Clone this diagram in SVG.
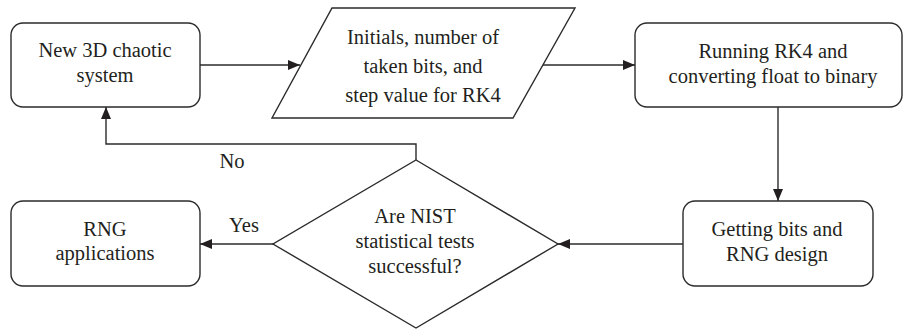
<svg xmlns="http://www.w3.org/2000/svg" width="904" height="330" viewBox="0 0 904 330">
<style>
.shape{fill:#fff;stroke:#2b2b2b;stroke-width:1.4}
.conn{fill:none;stroke:#2b2b2b;stroke-width:1.4}
.t{font-family:'Liberation Serif','DejaVu Serif',serif;font-size:20.5px;fill:#231f20;text-anchor:middle}
</style>
<defs>
<marker id="arr" markerWidth="12" markerHeight="10" refX="12" refY="5" orient="auto" markerUnits="userSpaceOnUse">
<path d="M0,0 L12,5 L0,10 Z" fill="#231f20"/>
</marker>
</defs>
<g id="connectors">
<line class="conn" x1="200" y1="65" x2="300" y2="65" marker-end="url(#arr)"/>
<line class="conn" x1="543" y1="65" x2="635" y2="65" marker-end="url(#arr)"/>
<line class="conn" x1="778" y1="107" x2="778" y2="201" marker-end="url(#arr)"/>
<line class="conn" x1="683" y1="244" x2="558" y2="244" marker-end="url(#arr)"/>
<line class="conn" x1="273" y1="244" x2="200" y2="244" marker-end="url(#arr)"/>
<polyline class="conn" points="416,160 416,144 106,144 106,107" marker-end="url(#arr)"/>
<text class="t" x="232" y="168">No</text>
<text class="t" x="244" y="232">Yes</text>
</g>
<g id="node-chaotic">
<rect class="shape" x="11" y="23" width="189" height="84" rx="12"/>
<text class="t" x="105" y="57">New 3D chaotic</text>
<text class="t" x="105" y="82">system</text>
</g>
<g id="node-initials">
<polygon class="shape" points="332,8 575,8 513,118 272,118"/>
<text class="t" x="423" y="44">Initials, number of</text>
<text class="t" x="423" y="73">taken bits, and</text>
<text class="t" x="423" y="102">step value for RK4</text>
</g>
<g id="node-rk4">
<rect class="shape" x="635" y="23" width="267" height="84" rx="12"/>
<text class="t" x="773" y="58">Running RK4 and</text>
<text class="t" x="773" y="83">converting float to binary</text>
</g>
<g id="node-getting">
<rect class="shape" x="683" y="201" width="190" height="85" rx="12"/>
<text class="t" x="777" y="236">Getting bits and</text>
<text class="t" x="777" y="261">RNG design</text>
</g>
<g id="node-nist">
<polygon class="shape" points="416,160 558,244 416,328 273,244"/>
<text class="t" x="415" y="223">Are NIST</text>
<text class="t" x="415" y="248">statistical tests</text>
<text class="t" x="415" y="273">successful?</text>
</g>
<g id="node-rng">
<rect class="shape" x="11" y="201" width="189" height="85" rx="12"/>
<text class="t" x="105" y="236">RNG</text>
<text class="t" x="105" y="260">applications</text>
</g>
</svg>
